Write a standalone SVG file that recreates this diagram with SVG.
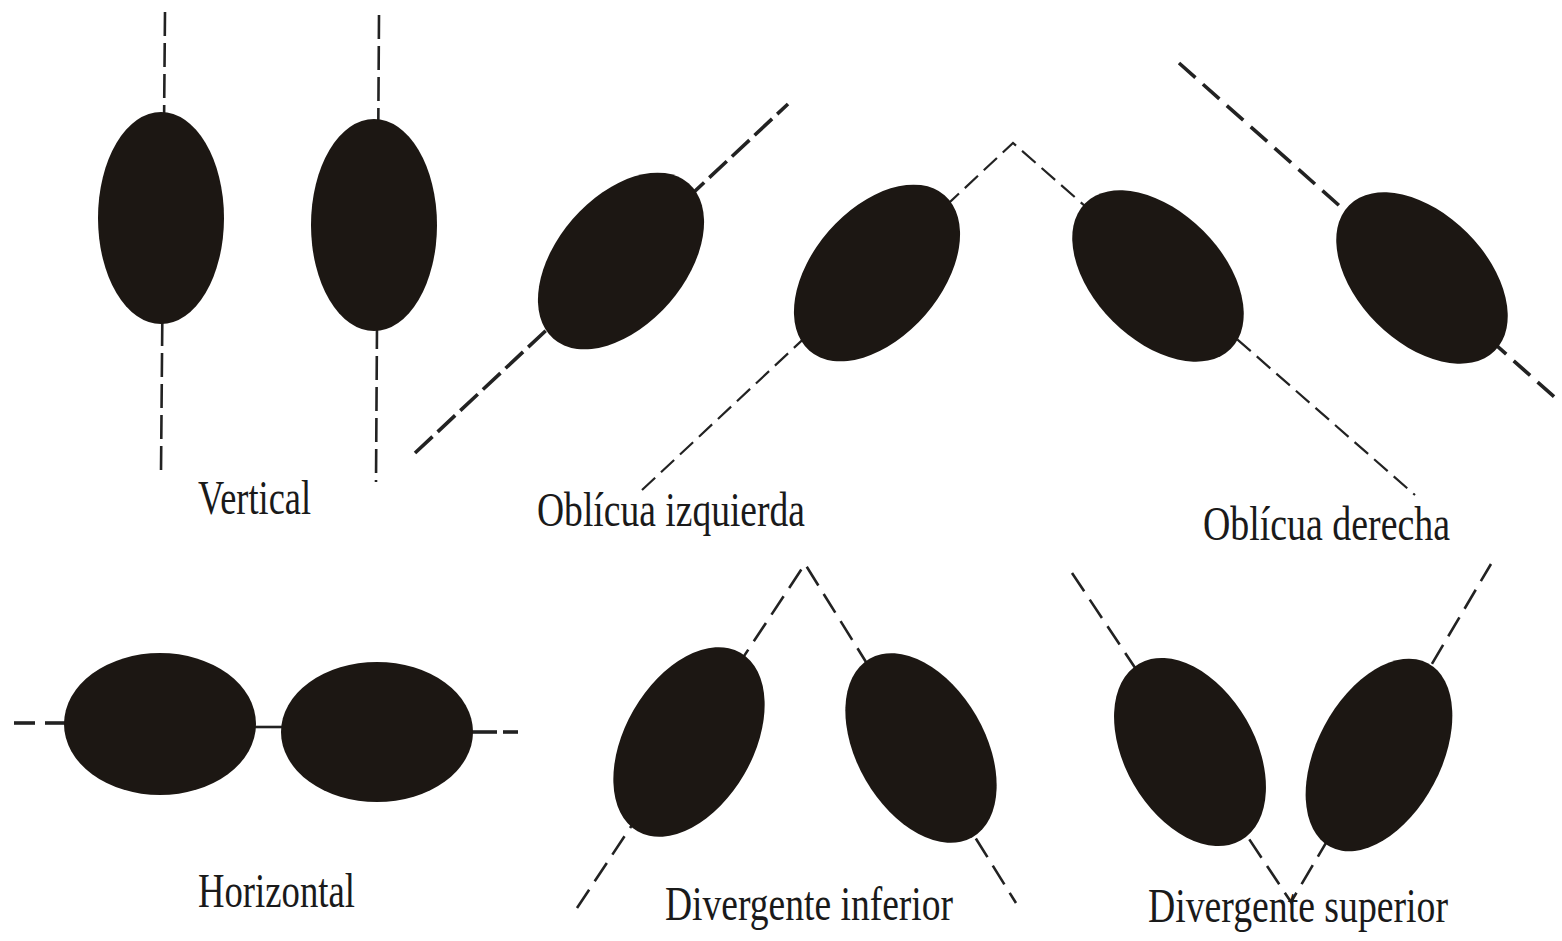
<svg xmlns="http://www.w3.org/2000/svg" width="1562" height="941" viewBox="0 0 1562 941">
<style>
.bg{fill:#ffffff}
.cell{fill:#1c1713}
.ln{fill:none;stroke:#222;stroke-width:2.6;stroke-linecap:butt}
.thin{stroke-width:2.2}
.thick{stroke-width:3.6}
.d1{stroke-dasharray:24 7}
.d2{stroke-dasharray:18 8}
.d3{stroke-dasharray:22 10}
.lbl{font-family:"Liberation Serif","Times New Roman",serif;font-size:48px;fill:#1a1a1a}
</style>
<rect class="bg" x="0" y="0" width="1562" height="941"/>
<g id="connectors">
  <line class="ln d1" x1="165" y1="12" x2="161" y2="472"/>
  <line class="ln d1" x1="379" y1="15" x2="376" y2="482"/>
  <line class="ln thick d1" x1="415" y1="453" x2="788" y2="104"/>
  <polyline class="ln thin d2" points="642,490 1013,143 1415,495"/>
  <line class="ln thick d3" x1="1179" y1="63" x2="1560" y2="402"/>
  <line class="ln thick" x1="14" y1="723" x2="35" y2="723"/>
  <line class="ln thick" x1="45" y1="723" x2="66" y2="723"/>
  <line class="ln" x1="253" y1="727" x2="283" y2="727"/>
  <line class="ln thick" x1="471" y1="732" x2="497" y2="732"/>
  <line class="ln thick" x1="503" y1="732" x2="518" y2="732"/>
  <polyline class="ln d3" points="577,908 805,564 1016,903"/>
  <polyline class="ln d3" points="1072,573 1291,902 1491,564"/>
</g>
<g id="vertical">
  <ellipse class="cell" cx="161" cy="218" rx="63" ry="106"/>
  <ellipse class="cell" cx="374" cy="225" rx="63" ry="106"/>
  <text class="lbl" x="198" y="514" textLength="113" lengthAdjust="spacingAndGlyphs">Vertical</text>
</g>
<g id="obliqua-izquierda">
  <ellipse class="cell" cx="621" cy="261" rx="103" ry="64" transform="rotate(-49 621 261)"/>
  <ellipse class="cell" cx="877" cy="273" rx="103" ry="64" transform="rotate(-49 877 273)"/>
  <text class="lbl" x="537" y="526" textLength="268" lengthAdjust="spacingAndGlyphs">Oblícua izquierda</text>
</g>
<g id="obliqua-derecha">
  <ellipse class="cell" cx="1158" cy="276" rx="103" ry="64" transform="rotate(45 1158 276)"/>
  <ellipse class="cell" cx="1422" cy="278" rx="103" ry="64" transform="rotate(45 1422 278)"/>
  <text class="lbl" x="1203" y="540" textLength="247" lengthAdjust="spacingAndGlyphs">Oblícua derecha</text>
</g>
<g id="horizontal">
  <ellipse class="cell" cx="160" cy="724" rx="96" ry="71"/>
  <ellipse class="cell" cx="377" cy="732" rx="96" ry="70"/>
  <text class="lbl" x="198" y="907" textLength="157" lengthAdjust="spacingAndGlyphs">Horizontal</text>
</g>
<g id="divergente-inferior">
  <ellipse class="cell" cx="689" cy="742" rx="103" ry="64" transform="rotate(-60 689 742)"/>
  <ellipse class="cell" cx="921" cy="748" rx="103" ry="64" transform="rotate(60 921 748)"/>
  <text class="lbl" x="665" y="920" textLength="288" lengthAdjust="spacingAndGlyphs">Divergente inferior</text>
</g>
<g id="divergente-superior">
  <ellipse class="cell" cx="1190" cy="752" rx="102" ry="65" transform="rotate(60 1190 752)"/>
  <ellipse class="cell" cx="1379" cy="755" rx="104" ry="62" transform="rotate(-62 1379 755)"/>
  <text class="lbl" x="1148" y="922" textLength="300" lengthAdjust="spacingAndGlyphs">Divergente superior</text>
</g>
</svg>
